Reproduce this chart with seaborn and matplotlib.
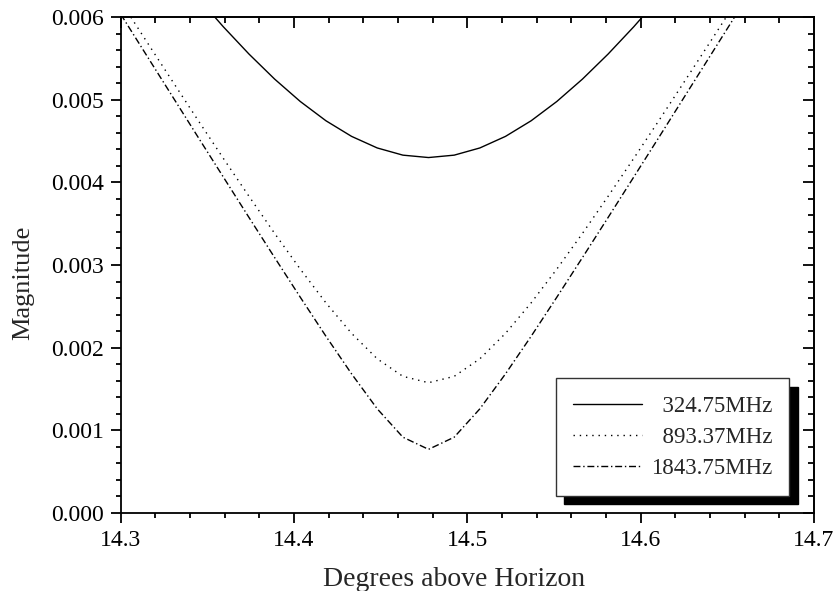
import matplotlib
matplotlib.use("Agg")
import matplotlib.pyplot as plt
import numpy as np
import pandas as pd
import seaborn as sns
from matplotlib.ticker import MultipleLocator, FormatStrFormatter

# ---- data ----
angle = [14.3000, 14.3148, 14.3296, 14.3444, 14.3592, 14.3740, 14.3888, 14.4036,
         14.4184, 14.4332, 14.4480, 14.4628, 14.4776, 14.4924, 14.5072, 14.5220,
         14.5368, 14.5516, 14.5664, 14.5812, 14.5960, 14.6108, 14.6256, 14.6404,
         14.6552, 14.6700]
mag_324 = [0.007399, 0.006996, 0.006608, 0.006235, 0.005882, 0.005552, 0.005249,
           0.004978, 0.004745, 0.004556, 0.004416, 0.004329, 0.004300, 0.004329,
           0.004416, 0.004556, 0.004745, 0.004978, 0.005249, 0.005552, 0.005882,
           0.006235, 0.006608, 0.006996, 0.007399, 0.007812]
mag_893 = [0.006189, 0.005708, 0.005231, 0.004757, 0.004290, 0.003831, 0.003382,
           0.002950, 0.002542, 0.002173, 0.001865, 0.001653, 0.001576, 0.001653,
           0.001865, 0.002173, 0.002542, 0.002950, 0.003382, 0.003831, 0.004290,
           0.004757, 0.005231, 0.005708, 0.006189, 0.006672]
mag_1843 = [0.006034, 0.005540, 0.005047, 0.004554, 0.004064, 0.003575, 0.003090,
            0.002610, 0.002138, 0.001683, 0.001260, 0.000917, 0.000770, 0.000917,
            0.001260, 0.001683, 0.002138, 0.002610, 0.003090, 0.003575, 0.004064,
            0.004554, 0.005047, 0.005540, 0.006034, 0.006529]
series_names = ["324.75MHz", "893.37MHz", "1843.75MHz"]
x_ticks = [14.3, 14.4, 14.5, 14.6, 14.7]
y_ticks = [0.000, 0.001, 0.002, 0.003, 0.004, 0.005, 0.006]

df = pd.concat([
    pd.DataFrame({"angle": angle, "mag": vals, "freq": name})
    for name, vals in zip(series_names, [mag_324, mag_893, mag_1843])
], ignore_index=True)

sns.set_style("white")
plt.rcParams["font.family"] = ["Liberation Serif", "DejaVu Serif"]
plt.rcParams["axes.linewidth"] = 1.3

fig = plt.figure(figsize=(8.39, 5.91), dpi=100)
ax = fig.add_axes([0.1439, 0.1320, 0.8263, 0.8392])

dashes = {"324.75MHz": "", "893.37MHz": (1, 3.5), "1843.75MHz": (5, 2, 1, 2)}
sns.lineplot(data=df, x="angle", y="mag", hue="freq", style="freq",
             hue_order=series_names, style_order=series_names,
             palette=["black"] * 3, dashes=dashes, linewidth=1.0,
             legend=False, ax=ax)

ax.set_xlim(14.3, 14.7)
ax.set_ylim(0.0, 0.006)
ax.set_xticks(x_ticks)
ax.set_yticks(y_ticks)
ax.xaxis.set_minor_locator(MultipleLocator(0.02))
ax.yaxis.set_minor_locator(MultipleLocator(0.0002))
ax.xaxis.set_major_formatter(FormatStrFormatter("%.1f"))
ax.yaxis.set_major_formatter(FormatStrFormatter("%.3f"))

for s in ax.spines.values():
    s.set_visible(True)
    s.set_color("black")
    s.set_linewidth(1.3)

ax.tick_params(which="both", bottom=True, left=True, top=False, right=False)
ax.tick_params(which="major", direction="out", length=7.2, width=1.3,
               labelsize=17, pad=5, colors="black")
ax.tick_params(which="minor", direction="out", length=3.6, width=1.3,
               colors="black")

top = ax.secondary_xaxis("top")
top.set_xticks(x_ticks)
top.xaxis.set_minor_locator(MultipleLocator(0.02))
top.tick_params(axis="x", which="both", top=True, labeltop=False)
top.tick_params(axis="x", which="major", direction="in", length=8, width=1.3, colors="black")
top.tick_params(axis="x", which="minor", direction="in", length=4, width=1.3, colors="black")
right = ax.secondary_yaxis("right")
right.set_yticks(y_ticks)
right.yaxis.set_minor_locator(MultipleLocator(0.0002))
right.tick_params(axis="y", which="both", right=True, labelright=False)
right.tick_params(axis="y", which="major", direction="in", length=8, width=1.3, colors="black")
right.tick_params(axis="y", which="minor", direction="in", length=4, width=1.3, colors="black")

ax.set_xlabel("Degrees above Horizon", fontsize=20)
ax.set_ylabel("Magnitude", fontsize=19)
ax.xaxis.set_label_coords(0.481, -0.108)
ax.yaxis.set_label_coords(-0.125, 0.464)

handles = ax.lines[:3]
labels = ["\u2007" + series_names[0], "\u2007" + series_names[1], series_names[2]]
leg = ax.legend(handles, labels, loc="lower left",
                bbox_to_anchor=(0.6274, 0.0343), borderaxespad=0,
                fontsize=16.5, frameon=True, fancybox=False, framealpha=1,
                edgecolor="#333333", handlelength=3.0, handletextpad=0.4,
                borderpad=0.75, labelspacing=0.44,
                shadow={"ox": 6, "oy": -6, "color": "black", "alpha": 1})
leg.get_frame().set_linewidth(1.0)

fig.savefig("out.png", dpi=100)
